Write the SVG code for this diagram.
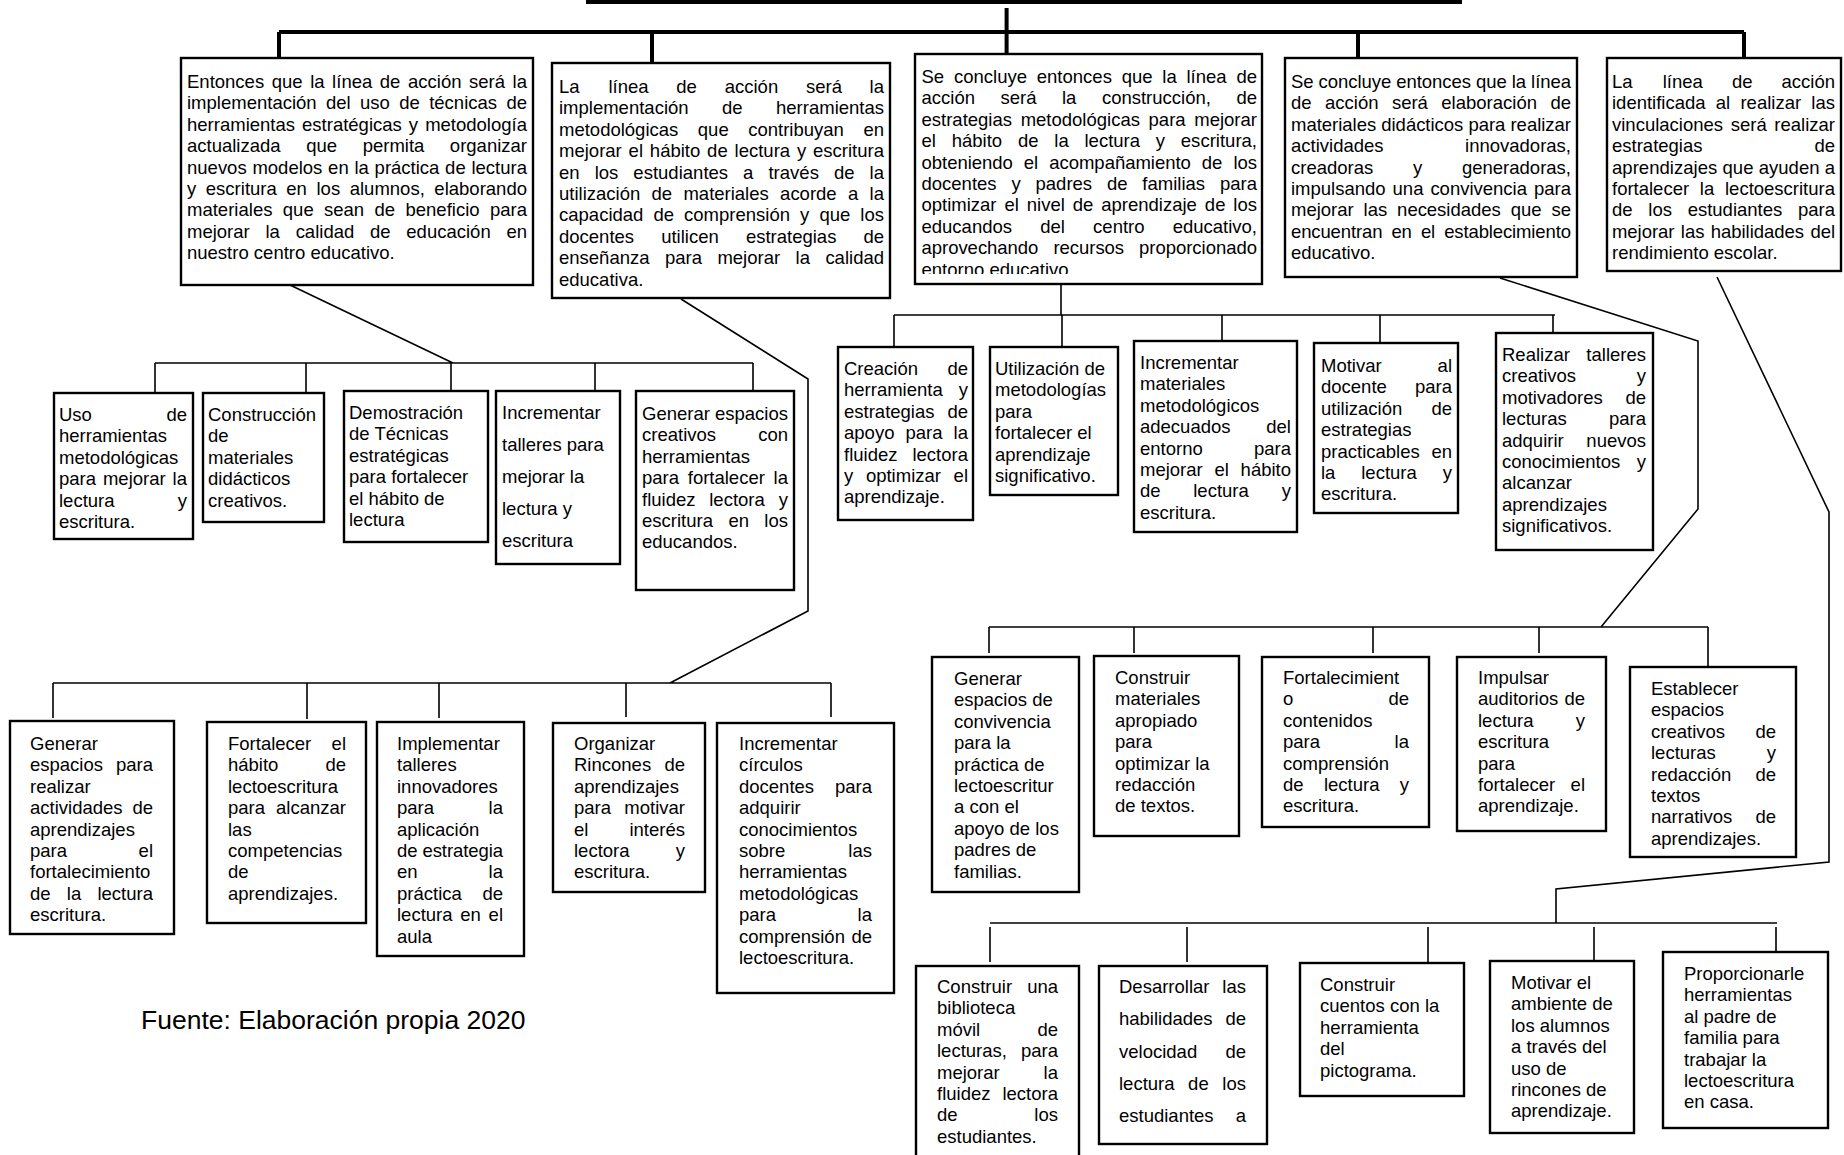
<svg xmlns="http://www.w3.org/2000/svg" width="1844" height="1155" viewBox="0 0 1844 1155">
<style>
.bx{fill:#fff;stroke:#000;stroke-width:2.4}
text{font-family:"Liberation Sans",Arial,sans-serif;font-size:18.5px;fill:#000}
.e{text-anchor:end}
.m{text-anchor:middle}
.thick{stroke:#000;stroke-width:4;fill:none}
.thin{stroke:#000;stroke-width:1.6;fill:none}
.src{font-size:26.5px}
</style>
<defs>
<clipPath id="c3"><rect x="915" y="54" width="347" height="220"/></clipPath>
</defs>
<rect width="1844" height="1155" fill="#fff"/>

<g id="connectors">
<path class="thick" d="M588,-10 V2 H1460 V-10"/>
<path class="thick" d="M279,32 H1744 M279,32 V60 M652,32 V63 M1006.6,8 V62 M1358,32 V60 M1744,32 V60"/>
<path class="thin" d="M290,285 L453,363 M155,363 H753 M155,363 V393 M306,363 V393 M451,363 V391 M595,363 V391 M753,363 V391"/>
<path class="thin" d="M681,299 L808,379 V611 L670,683 M53,683 H831 M53,683 V718 M307,683 V719 M439,683 V718 M626,683 V717 M831,683 V717"/>
<path class="thin" d="M1061,284 V315 M894,315 H1555 M894,315 V347 M1062,315 V347 M1222,315 V341 M1380,315 V343 M1553,315 V343"/>
<path class="thin" d="M1500,278 L1698,341 V509 L1601,627 M989,627 H1708 M989,627 V653 M1134,627 V653 M1373,627 V653 M1539,627 V653 M1708,627 V667"/>
<path class="thin" d="M1717,277 L1829,512 V862 L1556,889 V923 M990,923 H1777 M990,927 V962 M1187,927 V962 M1428,927 V962 M1594,927 V961 M1776,927 V962"/>
</g>

<g id="n1">
<rect class="bx" x="181" y="58" width="352" height="227"/>
<text x="187" y="88" word-spacing="2.4" textLength="340" lengthAdjust="spacing">Entonces que la línea de acción será la</text>
<text x="187" y="109.4" word-spacing="4.2" textLength="340" lengthAdjust="spacing">implementación del uso de técnicas de</text>
<text x="187" y="130.8" word-spacing="1.9" textLength="340" lengthAdjust="spacing">herramientas estratégicas y metodología</text>
<text x="187" y="152.2">actualizada</text><text x="306.2" y="152.2">que</text><text x="362.7" y="152.2">permita</text><text class="e" x="527" y="152.2">organizar</text>
<text x="187" y="173.6" word-spacing="0.6" textLength="340" lengthAdjust="spacing">nuevos modelos en la práctica de lectura</text>
<text x="187" y="195" word-spacing="4.4" textLength="340" lengthAdjust="spacing">y escritura en los alumnos, elaborando</text>
<text x="187" y="216.4" word-spacing="5.2" textLength="340" lengthAdjust="spacing">materiales que sean de beneficio para</text>
<text x="187" y="237.8" word-spacing="10.6" textLength="340" lengthAdjust="spacing">mejorar la calidad de educación en</text>
<text x="187" y="259.2">nuestro centro educativo.</text>
</g>

<g id="n2">
<rect class="bx" x="552" y="63" width="338" height="235"/>
<text x="559" y="93">La</text><text x="608.4" y="93">línea</text><text x="676.3" y="93">de</text><text x="724.7" y="93">acción</text><text x="806" y="93">será</text><text class="e" x="884" y="93">la</text>
<text x="559" y="114.4">implementación</text><text x="722" y="114.4">de</text><text class="e" x="884" y="114.4">herramientas</text>
<text x="559" y="135.8" word-spacing="14.4" textLength="325" lengthAdjust="spacing">metodológicas que contribuyan en</text>
<text x="559" y="157.2" word-spacing="1.7" textLength="325" lengthAdjust="spacing">mejorar el hábito de lectura y escritura</text>
<text x="559" y="178.6" word-spacing="9.9" textLength="325" lengthAdjust="spacing">en los estudiantes a través de la</text>
<text x="559" y="200" word-spacing="6.2" textLength="325" lengthAdjust="spacing">utilización de materiales acorde a la</text>
<text x="559" y="221.4" word-spacing="4.9" textLength="325" lengthAdjust="spacing">capacidad de comprensión y que los</text>
<text x="559" y="242.8">docentes</text><text x="661.2" y="242.8">utilicen</text><text x="745.9" y="242.8">estrategias</text><text class="e" x="884" y="242.8">de</text>
<text x="559" y="264.2" word-spacing="10.3" textLength="325" lengthAdjust="spacing">enseñanza para mejorar la calidad</text>
<text x="559" y="285.6">educativa.</text>
</g>

<g id="n3">
<rect class="bx" x="915" y="54" width="347" height="230"/>
<g clip-path="url(#c3)">
<text x="921.5" y="83" word-spacing="4.6" textLength="335.5" lengthAdjust="spacing">Se concluye entonces que la línea de</text>
<text x="921.5" y="104.4">acción</text><text x="1000.5" y="104.4">será</text><text x="1062" y="104.4">la</text><text x="1101.9" y="104.4">construcción,</text><text class="e" x="1257" y="104.4">de</text>
<text x="921.5" y="125.8" word-spacing="3.5" textLength="335.5" lengthAdjust="spacing">estrategias metodológicas para mejorar</text>
<text x="921.5" y="147.2" word-spacing="10.6" textLength="335.5" lengthAdjust="spacing">el hábito de la lectura y escritura,</text>
<text x="921.5" y="168.6" word-spacing="5.9" textLength="335.5" lengthAdjust="spacing">obteniendo el acompañamiento de los</text>
<text x="921.5" y="190" word-spacing="9.7" textLength="335.5" lengthAdjust="spacing">docentes y padres de familias para</text>
<text x="921.5" y="211.4" word-spacing="2.8" textLength="335.5" lengthAdjust="spacing">optimizar el nivel de aprendizaje de los</text>
<text x="921.5" y="232.8">educandos</text><text x="1040.2" y="232.8">del</text><text x="1093.1" y="232.8">centro</text><text class="e" x="1257" y="232.8">educativo,</text>
<text x="921.5" y="254.2" word-spacing="9.9" textLength="335.5" lengthAdjust="spacing">aprovechando recursos proporcionado</text>
<text x="921.5" y="275.6">entorno educativo.</text>
</g>
</g>

<g id="n4">
<rect class="bx" x="1285" y="58" width="292" height="219"/>
<text x="1291" y="88" textLength="280" lengthAdjust="spacing">Se concluye entonces que la línea</text>
<text x="1291" y="109.4" word-spacing="8.3" textLength="280" lengthAdjust="spacing">de acción será elaboración de</text>
<text x="1291" y="130.8" textLength="280" lengthAdjust="spacing">materiales didácticos para realizar</text>
<text x="1291" y="152.2">actividades</text><text class="e" x="1571" y="152.2">innovadoras,</text>
<text x="1291" y="173.6">creadoras</text><text class="m" x="1417.5" y="173.6">y</text><text class="e" x="1571" y="173.6">generadoras,</text>
<text x="1291" y="195" word-spacing="1.8" textLength="280" lengthAdjust="spacing">impulsando una convivencia para</text>
<text x="1291" y="216.4" word-spacing="4.9" textLength="280" lengthAdjust="spacing">mejorar las necesidades que se</text>
<text x="1291" y="237.8" word-spacing="4.1" textLength="280" lengthAdjust="spacing">encuentran en el establecimiento</text>
<text x="1291" y="259.2">educativo.</text>
</g>

<g id="n5">
<rect class="bx" x="1607" y="58" width="234" height="213"/>
<text x="1612" y="88">La</text><text x="1662.7" y="88">línea</text><text x="1731.9" y="88">de</text><text class="e" x="1835" y="88">acción</text>
<text x="1612" y="109.4" word-spacing="5.1" textLength="223" lengthAdjust="spacing">identificada al realizar las</text>
<text x="1612" y="130.8" word-spacing="2.5" textLength="223" lengthAdjust="spacing">vinculaciones será realizar</text>
<text x="1612" y="152.2">estrategias</text><text class="e" x="1835" y="152.2">de</text>
<text x="1612" y="173.6" textLength="223" lengthAdjust="spacing">aprendizajes que ayuden a</text>
<text x="1612" y="195" word-spacing="5.6" textLength="223" lengthAdjust="spacing">fortalecer la lectoescritura</text>
<text x="1612" y="216.4" word-spacing="10.6" textLength="223" lengthAdjust="spacing">de los estudiantes para</text>
<text x="1612" y="237.8" word-spacing="1.3" textLength="223" lengthAdjust="spacing">mejorar las habilidades del</text>
<text x="1612" y="259.2">rendimiento escolar.</text>
</g>

<g id="b1">
<rect class="bx" x="54" y="393" width="139" height="146"/>
<text x="59" y="421">Uso</text><text class="e" x="187" y="421">de</text>
<text x="59" y="442.4">herramientas</text>
<text x="59" y="463.8">metodológicas</text>
<text x="59" y="485.2" word-spacing="1.8" textLength="128" lengthAdjust="spacing">para mejorar la</text>
<text x="59" y="506.6">lectura</text><text class="e" x="187" y="506.6">y</text>
<text x="59" y="528">escritura.</text>
</g>
<g id="b2">
<rect class="bx" x="203" y="393" width="121" height="129"/>
<text x="208" y="421">Construcción</text>
<text x="208" y="442.4">de</text>
<text x="208" y="463.8">materiales</text>
<text x="208" y="485.2">didácticos</text>
<text x="208" y="506.6">creativos.</text>
</g>
<g id="b3">
<rect class="bx" x="344" y="391" width="144" height="151"/>
<text x="349" y="419">Demostración</text>
<text x="349" y="440.4">de Técnicas</text>
<text x="349" y="461.8">estratégicas</text>
<text x="349" y="483.2">para fortalecer</text>
<text x="349" y="504.6">el hábito de</text>
<text x="349" y="526">lectura</text>
</g>
<g id="b4">
<rect class="bx" x="496" y="391" width="124" height="173"/>
<text x="502" y="419">Incrementar</text>
<text x="502" y="451">talleres para</text>
<text x="502" y="483">mejorar la</text>
<text x="502" y="515">lectura y</text>
<text x="502" y="547">escritura</text>
</g>
<g id="b5">
<rect class="bx" x="636" y="391" width="158" height="199"/>
<text x="642" y="420">Generar espacios</text>
<text x="642" y="441.4">creativos</text><text class="e" x="788" y="441.4">con</text>
<text x="642" y="462.8">herramientas</text>
<text x="642" y="484.2" word-spacing="3.6" textLength="146" lengthAdjust="spacing">para fortalecer la</text>
<text x="642" y="505.6">fluidez</text><text class="m" x="737" y="505.6">lectora</text><text class="e" x="788" y="505.6">y</text>
<text x="642" y="527">escritura</text><text class="m" x="738.7" y="527">en</text><text class="e" x="788" y="527">los</text>
<text x="642" y="548.4">educandos.</text>
</g>

<g id="a1">
<rect class="bx" x="838" y="347" width="135" height="173"/>
<text x="844" y="375">Creación</text><text class="e" x="968" y="375">de</text>
<text x="844" y="396.4">herramienta</text><text class="e" x="968" y="396.4">y</text>
<text x="844" y="417.8">estrategias</text><text class="e" x="968" y="417.8">de</text>
<text x="844" y="439.2" word-spacing="5.9" textLength="124" lengthAdjust="spacing">apoyo para la</text>
<text x="844" y="460.6">fluidez</text><text class="e" x="968" y="460.6">lectora</text>
<text x="844" y="482" word-spacing="7.5" textLength="124" lengthAdjust="spacing">y optimizar el</text>
<text x="844" y="503.4">aprendizaje.</text>
</g>
<g id="a2">
<rect class="bx" x="990" y="347" width="128" height="148"/>
<text x="995" y="375">Utilización de</text>
<text x="995" y="396.4">metodologías</text>
<text x="995" y="417.8">para</text>
<text x="995" y="439.2">fortalecer el</text>
<text x="995" y="460.6">aprendizaje</text>
<text x="995" y="482">significativo.</text>
</g>
<g id="a3">
<rect class="bx" x="1134" y="341" width="163" height="191"/>
<text x="1140" y="369">Incrementar</text>
<text x="1140" y="390.4">materiales</text>
<text x="1140" y="411.8">metodológicos</text>
<text x="1140" y="433.2">adecuados</text><text class="e" x="1291" y="433.2">del</text>
<text x="1140" y="454.6">entorno</text><text class="e" x="1291" y="454.6">para</text>
<text x="1140" y="476" word-spacing="6.6" textLength="151" lengthAdjust="spacing">mejorar el hábito</text>
<text x="1140" y="497.4">de</text><text class="m" x="1221" y="497.4">lectura</text><text class="e" x="1291" y="497.4">y</text>
<text x="1140" y="518.8">escritura.</text>
</g>
<g id="a4">
<rect class="bx" x="1314" y="343" width="144" height="170"/>
<text x="1321" y="372">Motivar</text><text class="e" x="1452" y="372">al</text>
<text x="1321" y="393.4">docente</text><text class="e" x="1452" y="393.4">para</text>
<text x="1321" y="414.8">utilización</text><text class="e" x="1452" y="414.8">de</text>
<text x="1321" y="436.2">estrategias</text>
<text x="1321" y="457.6">practicables</text><text class="e" x="1452" y="457.6">en</text>
<text x="1321" y="479">la</text><text class="m" x="1389" y="479">lectura</text><text class="e" x="1452" y="479">y</text>
<text x="1321" y="500.4">escritura.</text>
</g>
<g id="a5">
<rect class="bx" x="1496" y="333" width="157" height="217"/>
<text x="1502" y="361">Realizar</text><text class="e" x="1646" y="361">talleres</text>
<text x="1502" y="382.4">creativos</text><text class="e" x="1646" y="382.4">y</text>
<text x="1502" y="403.8">motivadores</text><text class="e" x="1646" y="403.8">de</text>
<text x="1502" y="425.2">lecturas</text><text class="e" x="1646" y="425.2">para</text>
<text x="1502" y="446.6">adquirir</text><text class="e" x="1646" y="446.6">nuevos</text>
<text x="1502" y="468">conocimientos</text><text class="e" x="1646" y="468">y</text>
<text x="1502" y="489.4">alcanzar</text>
<text x="1502" y="510.8">aprendizajes</text>
<text x="1502" y="532.2">significativos.</text>
</g>

<g id="c1">
<rect class="bx" x="10" y="721" width="164" height="213"/>
<text x="30" y="750">Generar</text>
<text x="30" y="771.4">espacios</text><text class="e" x="153" y="771.4">para</text>
<text x="30" y="792.8">realizar</text>
<text x="30" y="814.2">actividades</text><text class="e" x="153" y="814.2">de</text>
<text x="30" y="835.6">aprendizajes</text>
<text x="30" y="857">para</text><text class="e" x="153" y="857">el</text>
<text x="30" y="878.4">fortalecimiento</text>
<text x="30" y="899.8">de</text><text class="m" x="74" y="899.8">la</text><text class="e" x="153" y="899.8">lectura</text>
<text x="30" y="921.2">escritura.</text>
</g>
<g id="c2">
<rect class="bx" x="207" y="722" width="159" height="201"/>
<text x="228" y="750">Fortalecer</text><text class="e" x="346" y="750">el</text>
<text x="228" y="771.4">hábito</text><text class="e" x="346" y="771.4">de</text>
<text x="228" y="792.8">lectoescritura</text>
<text x="228" y="814.2">para</text><text class="e" x="346" y="814.2">alcanzar</text>
<text x="228" y="835.6">las</text>
<text x="228" y="857">competencias</text>
<text x="228" y="878.4">de</text>
<text x="228" y="899.8">aprendizajes.</text>
</g>
<g id="c3">
<rect class="bx" x="377" y="722" width="147" height="234"/>
<text x="397" y="750">Implementar</text>
<text x="397" y="771.4">talleres</text>
<text x="397" y="792.8">innovadores</text>
<text x="397" y="814.2">para</text><text class="e" x="503" y="814.2">la</text>
<text x="397" y="835.6">aplicación</text>
<text x="397" y="857" textLength="106" lengthAdjust="spacing">de estrategia</text>
<text x="397" y="878.4">en</text><text class="e" x="503" y="878.4">la</text>
<text x="397" y="899.8">práctica</text><text class="e" x="503" y="899.8">de</text>
<text x="397" y="921.2" word-spacing="2.6" textLength="106" lengthAdjust="spacing">lectura en el</text>
<text x="397" y="942.6">aula</text>
</g>
<g id="c4">
<rect class="bx" x="553" y="723" width="152" height="169"/>
<text x="574" y="750">Organizar</text>
<text x="574" y="771.4">Rincones</text><text class="e" x="685" y="771.4">de</text>
<text x="574" y="792.8">aprendizajes</text>
<text x="574" y="814.2">para</text><text class="e" x="685" y="814.2">motivar</text>
<text x="574" y="835.6">el</text><text class="e" x="685" y="835.6">interés</text>
<text x="574" y="857">lectora</text><text class="e" x="685" y="857">y</text>
<text x="574" y="878.4">escritura.</text>
</g>
<g id="c5">
<rect class="bx" x="717" y="723" width="177" height="270"/>
<text x="739" y="750">Incrementar</text>
<text x="739" y="771.4">círculos</text>
<text x="739" y="792.8">docentes</text><text class="e" x="872" y="792.8">para</text>
<text x="739" y="814.2">adquirir</text>
<text x="739" y="835.6">conocimientos</text>
<text x="739" y="857">sobre</text><text class="e" x="872" y="857">las</text>
<text x="739" y="878.4">herramientas</text>
<text x="739" y="899.8">metodológicas</text>
<text x="739" y="921.2">para</text><text class="e" x="872" y="921.2">la</text>
<text x="739" y="942.6">comprensión</text><text class="e" x="872" y="942.6">de</text>
<text x="739" y="964">lectoescritura.</text>
</g>

<g id="d1">
<rect class="bx" x="932" y="657" width="147" height="235"/>
<text x="954" y="685">Generar</text>
<text x="954" y="706.4">espacios de</text>
<text x="954" y="727.8">convivencia</text>
<text x="954" y="749.2">para la</text>
<text x="954" y="770.6">práctica de</text>
<text x="954" y="792">lectoescritur</text>
<text x="954" y="813.4">a con el</text>
<text x="954" y="834.8">apoyo de los</text>
<text x="954" y="856.2">padres de</text>
<text x="954" y="877.6">familias.</text>
</g>
<g id="d2">
<rect class="bx" x="1094" y="656" width="145" height="180"/>
<text x="1115" y="684">Construir</text>
<text x="1115" y="705.4">materiales</text>
<text x="1115" y="726.8">apropiado</text>
<text x="1115" y="748.2">para</text>
<text x="1115" y="769.6">optimizar la</text>
<text x="1115" y="791">redacción</text>
<text x="1115" y="812.4">de textos.</text>
</g>
<g id="d3">
<rect class="bx" x="1262" y="657" width="167" height="170"/>
<text x="1283" y="684">Fortalecimient</text>
<text x="1283" y="705.4">o</text><text class="e" x="1409" y="705.4">de</text>
<text x="1283" y="726.8">contenidos</text>
<text x="1283" y="748.2">para</text><text class="e" x="1409" y="748.2">la</text>
<text x="1283" y="769.6">comprensión</text>
<text x="1283" y="791">de</text><text class="m" x="1351.7" y="791">lectura</text><text class="e" x="1409" y="791">y</text>
<text x="1283" y="812.4">escritura.</text>
</g>
<g id="d4">
<rect class="bx" x="1457" y="657" width="149" height="174"/>
<text x="1478" y="684">Impulsar</text>
<text x="1478" y="705.4" word-spacing="1.1" textLength="107" lengthAdjust="spacing">auditorios de</text>
<text x="1478" y="726.8">lectura</text><text class="e" x="1585" y="726.8">y</text>
<text x="1478" y="748.2">escritura</text>
<text x="1478" y="769.6">para</text>
<text x="1478" y="791">fortalecer</text><text class="e" x="1585" y="791">el</text>
<text x="1478" y="812.4">aprendizaje.</text>
</g>
<g id="d5">
<rect class="bx" x="1630" y="667" width="166" height="190"/>
<text x="1651" y="695">Establecer</text>
<text x="1651" y="716.4">espacios</text>
<text x="1651" y="737.8">creativos</text><text class="e" x="1776" y="737.8">de</text>
<text x="1651" y="759.2">lecturas</text><text class="e" x="1776" y="759.2">y</text>
<text x="1651" y="780.6">redacción</text><text class="e" x="1776" y="780.6">de</text>
<text x="1651" y="802">textos</text>
<text x="1651" y="823.4">narrativos</text><text class="e" x="1776" y="823.4">de</text>
<text x="1651" y="844.8">aprendizajes.</text>
</g>

<g id="e1">
<rect class="bx" x="916" y="966" width="163" height="210"/>
<text x="937" y="993">Construir</text><text class="e" x="1058" y="993">una</text>
<text x="937" y="1014.4">biblioteca</text>
<text x="937" y="1035.8">móvil</text><text class="e" x="1058" y="1035.8">de</text>
<text x="937" y="1057.2">lecturas,</text><text class="e" x="1058" y="1057.2">para</text>
<text x="937" y="1078.6">mejorar</text><text class="e" x="1058" y="1078.6">la</text>
<text x="937" y="1100">fluidez</text><text class="e" x="1058" y="1100">lectora</text>
<text x="937" y="1121.4">de</text><text class="e" x="1058" y="1121.4">los</text>
<text x="937" y="1142.8">estudiantes.</text>
</g>
<g id="e2">
<rect class="bx" x="1099" y="966" width="168" height="178"/>
<text x="1119" y="993">Desarrollar</text><text class="e" x="1246" y="993">las</text>
<text x="1119" y="1025.3">habilidades</text><text class="e" x="1246" y="1025.3">de</text>
<text x="1119" y="1057.6">velocidad</text><text class="e" x="1246" y="1057.6">de</text>
<text x="1119" y="1089.9">lectura</text><text class="m" x="1198.4" y="1089.9">de</text><text class="e" x="1246" y="1089.9">los</text>
<text x="1119" y="1122.2">estudiantes</text><text class="e" x="1246" y="1122.2">a</text>
</g>
<g id="e3">
<rect class="bx" x="1300" y="963" width="164" height="133"/>
<text x="1320" y="991">Construir</text>
<text x="1320" y="1012.4">cuentos con la</text>
<text x="1320" y="1033.8">herramienta</text>
<text x="1320" y="1055.2">del</text>
<text x="1320" y="1076.6">pictograma.</text>
</g>
<g id="e4">
<rect class="bx" x="1490" y="961" width="144" height="172"/>
<text x="1511" y="989">Motivar el</text>
<text x="1511" y="1010.4">ambiente de</text>
<text x="1511" y="1031.8">los alumnos</text>
<text x="1511" y="1053.2">a través del</text>
<text x="1511" y="1074.6">uso de</text>
<text x="1511" y="1096">rincones de</text>
<text x="1511" y="1117.4">aprendizaje.</text>
</g>
<g id="e5">
<rect class="bx" x="1663" y="952" width="165" height="176"/>
<text x="1684" y="980">Proporcionarle</text>
<text x="1684" y="1001.4">herramientas</text>
<text x="1684" y="1022.8">al padre de</text>
<text x="1684" y="1044.2">familia para</text>
<text x="1684" y="1065.6">trabajar la</text>
<text x="1684" y="1087">lectoescritura</text>
<text x="1684" y="1108.4">en casa.</text>
</g>

<text class="src" x="141" y="1029">Fuente: Elaboración propia 2020</text>
</svg>
